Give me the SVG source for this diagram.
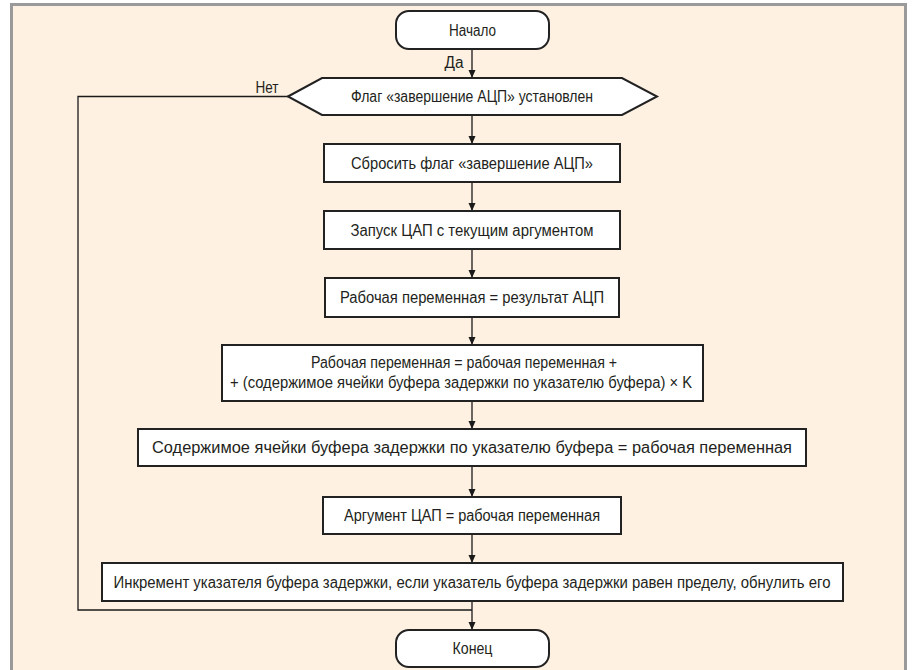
<svg xmlns="http://www.w3.org/2000/svg" width="915" height="670" viewBox="0 0 915 670">
  <defs>
    <marker id="arr" markerWidth="8" markerHeight="8" refX="8" refY="3.5" orient="auto" markerUnits="userSpaceOnUse">
      <path d="M0,0 L8,3.5 L0,7 z" fill="#1a1a1a"/>
    </marker>
  </defs>
  <style>
    .box { fill: #ffffff; stroke: #222222; stroke-width: 2; }
    .t { font-family: "Liberation Sans", Arial, sans-serif; font-size: 16px; fill: #231f20; text-anchor: middle; }
    .c { fill: none; stroke: #1a1a1a; stroke-width: 1.3; }
    .ca { fill: none; stroke: #1a1a1a; stroke-width: 1.3; marker-end: url(#arr); }
  </style>
  <rect x="0" y="0" width="915" height="670" fill="#ffffff"/>
  <rect x="11.5" y="4.5" width="894" height="680" fill="#fef1e2" stroke="#9a9a9a" stroke-width="3"/>

  <g id="connectors">
    <line class="ca" x1="472" y1="49" x2="472" y2="78"/>
    <line class="ca" x1="472" y1="115" x2="472" y2="144"/>
    <line class="ca" x1="472" y1="182" x2="472" y2="211"/>
    <line class="ca" x1="472" y1="249" x2="472" y2="278"/>
    <line class="ca" x1="472" y1="317" x2="472" y2="345"/>
    <line class="ca" x1="472" y1="401" x2="472" y2="429"/>
    <line class="ca" x1="472" y1="466" x2="472" y2="497"/>
    <line class="ca" x1="472" y1="534" x2="472" y2="563"/>
    <line class="ca" x1="472" y1="601" x2="472" y2="630"/>
    <polyline class="c" points="288,96.5 78,96.5 78,610 472,610"/>
    <text class="t" x="454" y="67.5" textLength="19" lengthAdjust="spacingAndGlyphs">Да</text>
    <text class="t" x="267" y="93" textLength="23" lengthAdjust="spacingAndGlyphs">Нет</text>
  </g>

  <g id="start">
    <rect class="box" x="396" y="11" width="153" height="38" rx="13" ry="13"/>
    <text class="t" x="472.5" y="35.5" textLength="47" lengthAdjust="spacingAndGlyphs">Начало</text>
  </g>

  <g id="decision">
    <polygon class="box" points="288,96.5 322,78 622,78 657,96.5 622,115 322,115"/>
    <text class="t" x="472" y="102" textLength="242" lengthAdjust="spacingAndGlyphs">Флаг «завершение АЦП» установлен</text>
  </g>

  <g id="reset">
    <rect class="box" x="324" y="144" width="296" height="38"/>
    <text class="t" x="472" y="168.5" textLength="242" lengthAdjust="spacingAndGlyphs">Сбросить флаг «завершение АЦП»</text>
  </g>

  <g id="start-dac">
    <rect class="box" x="324" y="211" width="296" height="38"/>
    <text class="t" x="472" y="235.5" textLength="243" lengthAdjust="spacingAndGlyphs">Запуск ЦАП с текущим аргументом</text>
  </g>

  <g id="work-adc">
    <rect class="box" x="325" y="278" width="294" height="39"/>
    <text class="t" x="472" y="302.5" textLength="264" lengthAdjust="spacingAndGlyphs">Рабочая переменная = результат АЦП</text>
  </g>

  <g id="work-calc">
    <rect class="box" x="222" y="345" width="481" height="56"/>
    <text class="t" x="464" y="368" textLength="306" lengthAdjust="spacingAndGlyphs">Рабочая переменная = рабочая переменная +</text>
    <text class="t" x="461" y="387.5" textLength="462" lengthAdjust="spacingAndGlyphs">+ (содержимое ячейки буфера задержки по указателю буфера) × K</text>
  </g>

  <g id="store">
    <rect class="box" x="138" y="429" width="668" height="37"/>
    <text class="t" x="472" y="453" textLength="640" lengthAdjust="spacingAndGlyphs">Содержимое ячейки буфера задержки по указателю буфера = рабочая переменная</text>
  </g>

  <g id="arg">
    <rect class="box" x="323" y="497" width="298" height="37"/>
    <text class="t" x="472" y="521" textLength="256" lengthAdjust="spacingAndGlyphs">Аргумент ЦАП = рабочая переменная</text>
  </g>

  <g id="incr">
    <rect class="box" x="102" y="563" width="741" height="38"/>
    <text class="t" x="472" y="587.5" textLength="717" lengthAdjust="spacingAndGlyphs">Инкремент указателя буфера задержки, если указатель буфера задержки равен пределу, обнулить его</text>
  </g>

  <g id="end">
    <rect class="box" x="396" y="630" width="153" height="37" rx="13" ry="13"/>
    <text class="t" x="472.5" y="654" textLength="40" lengthAdjust="spacingAndGlyphs">Конец</text>
  </g>
</svg>
